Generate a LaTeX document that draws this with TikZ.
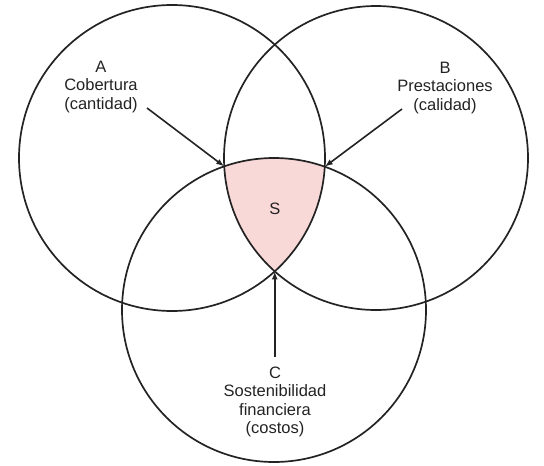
\documentclass[tikz,border=0pt]{standalone}
\usepackage{fontspec}
\setmainfont{Liberation Sans}
\usetikzlibrary{arrows.meta}
\definecolor{sfill}{RGB}{249,216,216}
\definecolor{ink}{RGB}{35,35,35}
\begin{document}
\begin{tikzpicture}[x=1pt,y=-1pt,
  ring/.style={draw=ink,line width=1.7pt},
  lbl/.style={align=center,font=\fontsize{16.5}{18.5}\selectfont,text=ink,inner sep=0pt},
  pointer/.style={draw=ink,line width=1.6pt,-{Latex[length=8pt,width=6pt]}}]
\useasboundingbox (0,0) rectangle (544,466);
\coordinate (ca) at (172,158);
\coordinate (cb) at (376,158);
\coordinate (cc) at (274,310);
% shaded triple intersection
\begin{scope}
  \clip (ca) circle[radius=153];
  \clip (cb) circle[radius=152];
  \fill[sfill] (cc) circle[radius=152];
\end{scope}
\draw[ring] (ca) circle[radius=153];
\draw[ring] (cb) circle[radius=152];
\draw[ring] (cc) circle[radius=152];
% intersection corners of S
\coordinate (sul) at (224.2,166.4);
\coordinate (sur) at (324.8,166.7);
\coordinate (sbot) at (274.75,271.4);
% labels
\node[lbl] (la) at (101,87) {A\\Cobertura\\(cantidad)};
\node[lbl] (lb) at (445,88) {B\\Prestaciones\\(calidad)};
\node[lbl] (lc) at (275,402) {C\\Sostenibilidad\\financiera\\(costos)};
\node[lbl] (s) at (275,209) {S};
% arrow start points
\coordinate (pa) at (147,108);
\coordinate (pb) at (402,109);
\coordinate (pc) at (274.75,357);
\draw[pointer] (pa) -- (sul);
\draw[pointer] (pb) -- (sur);
\draw[pointer] (pc) -- (sbot);
\end{tikzpicture}
\end{document}
